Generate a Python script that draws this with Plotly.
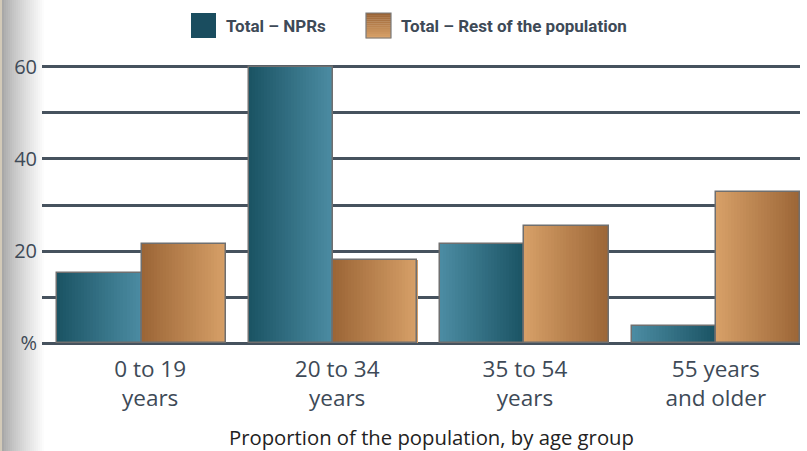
import plotly.graph_objects as go
import numpy as np

# ---------------- data ----------------
categories = ["0 to 19<br>years", "20 to 34<br>years", "35 to 54<br>years", "55 years<br>and older"]
npr_values = [15.2, 60.0, 21.5, 3.7]
rest_values = [21.5, 18.0, 25.4, 32.8]
series_names = ["Total – NPRs", "Total – Rest of the population"]
y_tickvals = [0, 20, 40, 60]
y_ticktext = ["%", "20", "40", "60"]
x_title = "Proportion of the population, by age group"

# gradient direction per group: True = dark on left
dark_left = [True, True, False, False]

# ---------------- style ----------------
TEXT = "#3e4a57"
GRID = "#46525e"
NPR_DARK, NPR_LIGHT = (26, 83, 99), (76, 140, 163)
REST_DARK, REST_LIGHT = (155, 101, 54), (215, 160, 104)
W = 0.44
N = 28
FONT = "Open Sans"
FONT_B = "Roboto"
label_shift = [0.045, 0.022, 0.003, 0.0]

x = np.arange(len(categories))


def mix(c1, c2, t):
    return "rgb(%d,%d,%d)" % tuple(round(a + (b - a) * t) for a, b in zip(c1, c2))


fig = go.Figure()

for vals, dark, light, base in [(npr_values, NPR_DARK, NPR_LIGHT, -W), (rest_values, REST_DARK, REST_LIGHT, 0.0)]:
    for j in range(N):
        t = (j + 0.5) / N
        cols = [mix(dark, light, t if dl else 1 - t) for dl in dark_left]
        fig.add_trace(go.Bar(
            x=x, y=vals, offset=base + j * W / N, width=W / N * 1.15,
            marker=dict(color=cols, line=dict(width=0)),
            showlegend=False, hoverinfo="skip"))
    fig.add_trace(go.Bar(
        x=x, y=vals, offset=base, width=W,
        marker=dict(color="rgba(0,0,0,0)", line=dict(color="#6f6f6f", width=1.5)),
        showlegend=False, hoverinfo="y"))

shapes = []
# left grey strip (decorative background)
L, PW = 42, 758
def px(p):
    return (p - L) / PW
nstrip = 22
for i in range(nstrip):
    t = i / (nstrip - 1)
    g = round(168 + (255 - 168) * (t ** 0.8))
    shapes.append(dict(type="rect", xref="paper", yref="paper",
                       x0=px(2 + i * 2), x1=px(2 + (i + 1) * 2 + 0.5),
                       y0=-0.4, y1=1.3, fillcolor="rgb(%d,%d,%d)" % (g, g, g),
                       line=dict(width=0), layer="below"))
shapes.append(dict(type="rect", xref="paper", yref="paper", x0=px(0), x1=px(2),
                   y0=-0.4, y1=1.3, fillcolor="#d3cab8", line=dict(width=0), layer="below"))

# legend swatches
PH, B = 283, 343
def py(p):
    return (B - p) / PH
shapes.append(dict(type="rect", xref="paper", yref="paper", x0=px(191), x1=px(216),
                   y0=py(38), y1=py(13), fillcolor="#1a4d5f", line=dict(width=0)))
nsw = 12
for i in range(nsw):
    t = i / (nsw - 1)
    shapes.append(dict(type="rect", xref="paper", yref="paper", x0=px(366), x1=px(391),
                       y0=py(13 + 25 * (i + 1) / nsw + 0.3), y1=py(13 + 25 * i / nsw),
                       fillcolor=mix(REST_DARK, REST_LIGHT, t), line=dict(width=0)))
shapes.append(dict(type="rect", xref="paper", yref="paper", x0=px(366), x1=px(391),
                   y0=py(38), y1=py(13), fillcolor="rgba(0,0,0,0)",
                   line=dict(color="#7a7a7a", width=1.2)))

annotations = [
    dict(text=series_names[0], xref="paper", yref="paper", x=px(224), y=py(25.5),
         xanchor="left", yanchor="middle", showarrow=False,
         font=dict(family=FONT_B, size=17, color=TEXT, weight="bold")),
    dict(text=series_names[1], xref="paper", yref="paper", x=px(399), y=py(25.5),
         xanchor="left", yanchor="middle", showarrow=False,
         font=dict(family=FONT_B, size=17, color=TEXT, weight="bold")),
    dict(text=x_title, xref="paper", yref="paper", x=px(431), y=py(437),
         xanchor="center", yanchor="middle", showarrow=False,
         font=dict(family=FONT, size=20.3, color="#222222")),
]

fig.update_layout(
    width=807, height=451,
    margin=dict(l=42, r=7, t=60, b=108),
    paper_bgcolor="white", plot_bgcolor="white",
    barmode="overlay", bargap=0,
    shapes=shapes, annotations=annotations,
    showlegend=False,
    xaxis=dict(range=[-0.52, 3.44], tickvals=x + np.array(label_shift), ticktext=categories,
               showgrid=False, zeroline=False, showline=False, ticks="",
               ticklabelstandoff=10,
               tickfont=dict(family=FONT, size=22.5, color=TEXT)),
    yaxis=dict(range=[0, 61.52], tickvals=y_tickvals, ticktext=y_ticktext,
               showgrid=True, gridcolor=GRID, gridwidth=2.5,
               zeroline=True, zerolinecolor=GRID, zerolinewidth=2.5,
               showline=False, ticks="", ticklabelstandoff=4,
               tickfont=dict(family=FONT, size=20, color=TEXT),
               minor=dict(tickvals=[10, 30, 50], showgrid=True, gridcolor=GRID, gridwidth=2.5)),
)

fig.write_html("out.html", config={"displayModeBar": False},
               post_script="document.body.style.margin='0';document.body.style.overflow='hidden';")
